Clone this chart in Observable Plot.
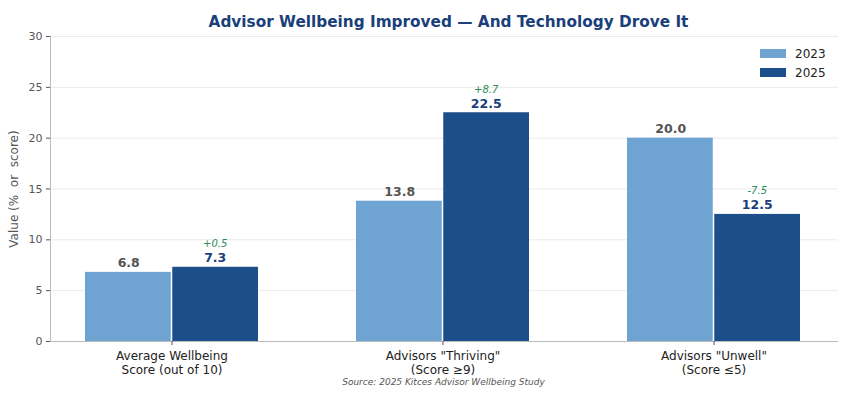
<!DOCTYPE html>
<html><head><meta charset="utf-8">
<script src="https://cdn.jsdelivr.net/npm/d3@7"></script>
<script src="https://cdn.jsdelivr.net/npm/@observablehq/plot@0.6"></script>
<style>
body{margin:0;background:#fff;font-family:"DejaVu Sans",sans-serif}
#wrap{position:relative;width:846px;height:399px}
#legend{position:absolute;left:760px;top:44px;font-size:12px;color:#222}
#legend .row{display:flex;align-items:center;height:19px}
#legend .sw{width:26px;height:9px;margin-right:9px}
</style></head><body><div id="wrap"></div>
<script>
const categories = ["Average Wellbeing\nScore (out of 10)", "Advisors \"Thriving\"\n(Score ≥9)", "Advisors \"Unwell\"\n(Score ≤5)"];
const years = ["2023", "2025"];
const values2023 = [6.8, 13.8, 20.0];
const values2025 = [7.3, 22.5, 12.5];
const yTicks = [0, 5, 10, 15, 20, 25, 30];
const colors = ["#6fa4d2", "#1c4f8a"];
const title = "Advisor Wellbeing Improved — And Technology Drove It";
const source = "Source: 2025 Kitces Advisor Wellbeing Study";
const yLabel = "Value (%  or  score)";

const d23 = categories.map((c, i) => ({category: c, year: years[0], value: values2023[i]}));
const d25 = categories.map((c, i) => ({category: c, year: years[1], value: values2025[i]}));
const deltas = categories.map((c, i) => {
  const d = values2025[i] - values2023[i];
  return {category: c, value: values2025[i], label: (d >= 0 ? "+" : "-") + Math.abs(d).toFixed(1)};
});

function make(bw) {
  return Plot.plot({
    width: 846, height: 399,
    marginTop: 36, marginBottom: 58, marginLeft: 50, marginRight: 10,
    style: {fontFamily: "DejaVu Sans, sans-serif", background: "white"},
    x: {type: "band", domain: categories, paddingInner: 0.36, paddingOuter: 0.1275},
    y: {domain: [0, 30]},
    marks: [
      Plot.gridY(yTicks, {stroke: "#ebebeb", strokeOpacity: 1, insetRight: -2}),
      Plot.barY(d23, {x: "category", y: "value", fill: colors[0], insetRight: bw / 2 + 0.75}),
      Plot.barY(d25, {x: "category", y: "value", fill: colors[1], insetLeft: bw / 2 + 0.75}),
      Plot.text(d23, {x: "category", y: "value", text: d => d.value.toFixed(1), dx: -bw / 4, dy: -5, lineAnchor: "bottom", fill: "#555", fontWeight: "bold", fontSize: 12.5}),
      Plot.text(d25, {x: "category", y: "value", text: d => d.value.toFixed(1), dx: bw / 4, dy: -5, lineAnchor: "bottom", fill: "#1a3f7a", fontWeight: "bold", fontSize: 12.5}),
      Plot.text(deltas, {x: "category", y: "value", text: "label", dx: bw / 4, dy: -20, lineAnchor: "bottom", fill: "#2e8b57", fontStyle: "italic", fontSize: 10}),
      Plot.ruleY([0], {stroke: "#bbb", insetRight: -2}),
      Plot.frame({anchor: "left", stroke: "#bbb"}),
      Plot.axisY(yTicks, {tickSize: 4, tickPadding: 4, fontSize: 11, fill: "#555", stroke: "#555", label: null}),
      Plot.text([yLabel], {frameAnchor: "left", textAnchor: "middle", rotate: -90, dx: -36, fontSize: 12, fill: "#555"}),
      Plot.axisX({tickSize: 4, tickPadding: 4, fontSize: 12, fill: "#222", stroke: "#555", lineHeight: 1.2, label: null}),
      Plot.text([title], {frameAnchor: "top", dy: -20, dx: 5, fontSize: 15.3, fontWeight: "bold", fill: "#1a3f7a"}),
      Plot.text([source], {frameAnchor: "bottom", dy: 43, fontSize: 9, fontStyle: "italic", fill: "#555"})
    ]
  });
}

const first = make(100);
const bw = first.scale("x").bandwidth;
const chart = make(bw);
const wrap = document.getElementById("wrap");
wrap.appendChild(chart);
const legend = document.createElement("div");
legend.id = "legend";
years.forEach((y, i) => {
  const row = document.createElement("div");
  row.className = "row";
  row.innerHTML = `<div class="sw" style="background:${colors[i]}"></div><span>${y}</span>`;
  legend.appendChild(row);
});
wrap.appendChild(legend);
</script></body></html>
